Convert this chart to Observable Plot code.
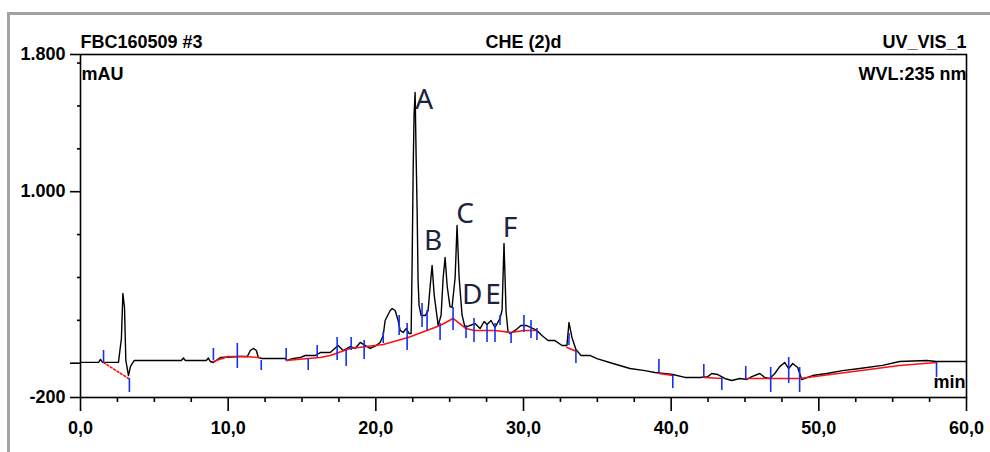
<!DOCTYPE html>
<html><head><meta charset="utf-8">
<script src="https://cdn.jsdelivr.net/npm/d3@7"></script>
<script src="https://cdn.jsdelivr.net/npm/@observablehq/plot@0.6"></script>
<style>
html,body{margin:0;padding:0;background:#fff;}
#wrap{position:relative;width:990px;height:452px;overflow:hidden;}
#border{position:absolute;left:7px;top:12px;width:990px;height:460px;border-top:3px solid #a3a3a3;border-left:3px solid #a3a3a3;}
#chart{position:absolute;left:0;top:0;}
</style></head><body>
<div id="wrap"><div id="border"></div><div id="chart"></div></div>
<script>
// ---- data (time in min, absorbance in mAU) ----
const signalTime = [0,1.22,1.35,1.49,2.57,2.77,2.87,2.98,3.07,3.25,3.38,3.52,3.65,6.83,6.97,7.10,8.52,8.66,8.79,9.00,9.47,10.82,11.30,11.50,11.70,11.91,12.04,12.31,13.87,14.00,14.34,14.88,15.22,15.90,16.24,16.91,17.45,17.79,18.26,18.60,18.94,19.41,19.62,20.02,20.29,20.50,20.63,20.97,21.11,21.31,21.51,21.65,21.85,22.05,22.26,22.39,22.46,22.53,22.59,22.66,22.73,22.80,22.86,22.93,23.07,23.34,23.54,23.68,23.81,23.95,24.22,24.42,24.56,24.69,24.83,25.02,25.16,25.37,25.50,25.64,25.84,26.04,26.38,26.72,27.06,27.33,27.53,27.80,28.07,28.41,28.55,28.68,28.82,28.95,29.09,29.43,29.83,30.17,30.51,30.91,31.25,31.66,32.13,32.61,32.94,33.08,33.28,33.55,33.90,34.50,34.97,36.06,37.21,38.22,38.90,40.11,40.93,41.94,42.48,42.75,43.16,43.63,44.10,44.65,45.12,45.46,46.00,46.34,46.68,47.02,47.35,47.69,47.96,48.23,48.57,48.84,49.38,49.58,50.53,51.61,52.76,54.32,55.47,57.30,57.97,60];
const signalMAU  = [5,5,22,5,5,144,406,325,16,-72,-20,0,16,16,30,16,16,30,10,4,33,39,39,74,86,74,33,27,27,16,27,33,45,45,62,62,103,74,97,86,121,97,86,103,121,162,249,307,319,307,249,191,179,202,173,173,600,1135,1450,1578,1200,873,482,336,278,278,307,450,570,400,220,280,500,616,450,330,325,500,803,500,280,208,220,231,202,243,226,249,208,261,310,698,300,185,173,191,220,220,208,191,162,132,132,103,103,237,150,80,45,45,27,-2,-31,-43,-54,-66,-83,-83,-78,-60,-66,-89,-101,-89,-95,-78,-60,-83,-89,-60,-20,4,-31,-2,-25,-95,-78,-72,-60,-43,-31,-13,10,16,10,10];

// baseline segments (red)
const baselineSeg  = [1,1, 2,2,2,2, 3,3,3,3,3,3,3,3,3,3,3,3,3,3,3, 4,4, 5,5, 6,6, 7,7,7,7];
const baselineTime = [1.56,3.25, 9.0,10.0,10.82,12.18, 13.93,15.42,16.24,16.91,18.26,20.5,22.19,24.35,25.23,26.11,26.65,28.07,29.16,30.03,30.91, 32.94,33.62, 39.17,40.11, 42.21,43.43, 45.05,48.7,55.47,57.97];
const baselineMAU  = [4,-89, 10,39,39,33, 16,27,33,45,86,109,150,220,261,202,191,191,179,191,191, 92,68, -60,-72, -83,-89, -89,-89,-13,4];

// peak delimiters (blue)
const markerTime   = [1.56,3.31,9.0,10.62,12.24,13.93,15.42,16.03,17.38,17.99,18.33,19.21,20.5,21.58,22.12,23.13,23.47,24.35,25.23,26.11,26.65,27.53,28.07,28.41,29.16,30.03,30.51,30.91,33.08,33.55,39.17,40.11,42.21,43.43,45.05,46.74,47.96,48.7,57.97];
const markerTop    = [74,-89,86,115,16,86,27,103,150,74,150,132,179,278,231,348,307,231,325,220,261,220,231,278,179,278,249,202,173,74,22,-72,-8,-83,-19,-25,33,-25,4];
const markerBottom = [-2,-171,16,-31,-43,16,-43,33,16,-19,74,22,115,162,74,208,191,132,191,144,121,121,121,220,115,179,144,132,103,-2,-60,-148,-83,-159,-101,-171,-118,-171,-83];

// peak labels
const peakNames = ["A","B","C","D","E","F"];
const peakTime  = [23.27,23.88,26.04,26.52,27.94,29.09];
const peakMAU   = [1532,710,867,395,395,791];

// axis ticks
const xMajor = [0,10,20,30,40,50,60];
const xMinor = [2.5,5,7.5,12.5,15,17.5,22.5,25,27.5,32.5,35,37.5,42.5,45,47.5,52.5,55,57.5];
const yMajor = [-200,0,1000,1800];
const yMajorLabels = ["-200","","1.000","1.800"];
const yMinor = [250,500,750,1250,1500,1750];

// header texts
const titleLeft = "FBC160509 #3", titleCenter = "CHE (2)d", titleRight = "UV_VIS_1";
const yUnit = "mAU", wavelength = "WVL:235 nm", xUnit = "min";

// ---- build tables ----
const signal = signalTime.map((t, i) => ({t, v: signalMAU[i]}));
const baseline = baselineTime.map((t, i) => ({t, v: baselineMAU[i], seg: baselineSeg[i]}));
const markers = markerTime.map((t, i) => ({t, top: markerTop[i], bottom: markerBottom[i]}));
const peaks = peakNames.map((name, i) => ({name, t: peakTime[i], v: peakMAU[i]}));

const font = "'Liberation Sans', Arial, sans-serif";
const txt = {fontSize: 18, fontWeight: "bold", fontFamily: font, fill: "black"};

const chart = Plot.plot({
  width: 990, height: 452,
  marginLeft: 80, marginRight: 24, marginTop: 54, marginBottom: 55,
  style: {fontFamily: font, background: "transparent"},
  x: {domain: [0, 60]},
  y: {domain: [-200, 1800]},
  marks: [
    Plot.line(signal, {x: "t", y: "v", stroke: "black", strokeWidth: 1.4}),
    Plot.line(baseline.filter(d => d.seg === 1), {x: "t", y: "v", stroke: "#ff1010", strokeWidth: 1.6, strokeDasharray: "2,2"}),
    Plot.line(baseline.filter(d => d.seg !== 1), {x: "t", y: "v", z: "seg", stroke: "#ff1010", strokeWidth: 1.6}),
    Plot.ruleX(markers, {x: "t", y1: "top", y2: "bottom", stroke: "#1530f0", strokeWidth: 1.6}),
    Plot.frame({stroke: "black", strokeWidth: 1.6}),
    Plot.axisX(xMajor, {tickSize: 14, tickPadding: 10, strokeWidth: 1.6, tickFormat: d => d.toFixed(1).replace(".", ","), label: null, ...txt}),
    Plot.axisX(xMinor, {tickSize: 5, strokeWidth: 1.6, tickFormat: () => "", label: null}),
    Plot.axisY(yMajor, {tickSize: 10, tickPadding: 5, strokeWidth: 1.6, tickFormat: d => yMajorLabels[yMajor.indexOf(d)], label: null, ...txt}),
    Plot.axisY(yMinor, {tickSize: 3, strokeWidth: 1.6, tickFormat: () => "", label: null}),
    Plot.text([titleLeft], {text: d => d, frameAnchor: "top-left", textAnchor: "start", lineAnchor: "bottom", dy: -7, ...txt}),
    Plot.text([titleCenter], {text: d => d, frameAnchor: "top", textAnchor: "middle", lineAnchor: "bottom", dy: -7, ...txt}),
    Plot.text([titleRight], {text: d => d, frameAnchor: "top-right", textAnchor: "end", lineAnchor: "bottom", dy: -7, ...txt}),
    Plot.text([yUnit], {text: d => d, frameAnchor: "top-left", textAnchor: "start", lineAnchor: "top", dx: 1, dy: 13, ...txt}),
    Plot.text([wavelength], {text: d => d, frameAnchor: "top-right", textAnchor: "end", lineAnchor: "top", dy: 13, ...txt}),
    Plot.text([xUnit], {text: d => d, frameAnchor: "bottom-right", textAnchor: "end", lineAnchor: "bottom", dx: -1, dy: -10, ...txt}),
    Plot.text(peaks, {x: "t", y: "v", text: "name", fontSize: 28, fontFamily: "'Noto Sans', sans-serif", fill: "#1c2340", ariaLabel: "peak-labels"})
  ]
});
document.getElementById("chart").appendChild(chart);

// condense the peak letters horizontally
d3.select(chart).selectAll('g[aria-label="peak-labels"] text').each(function() {
  const tr = this.getAttribute("transform");
  if (tr) this.setAttribute("transform", tr + " scale(0.75,1)");
  else {
    const x = +this.getAttribute("x") || 0, y = +this.getAttribute("y") || 0;
    this.setAttribute("transform", `translate(${x},${y}) scale(0.75,1) translate(${-x},${-y})`);
  }
});
</script>
</body></html>
